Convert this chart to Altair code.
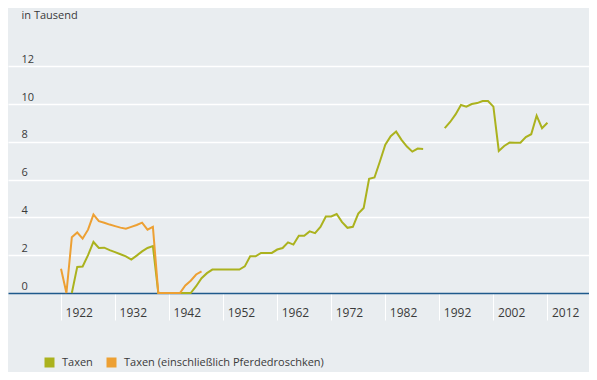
import altair as alt
import pandas as pd

# ---- data (in thousands) ----
series_names = ["Taxen", "Taxen (einschließlich Pferdedroschken)"]

years_taxen = list(range(1924, 2013))
values_taxen = [
    0, 1.38, 1.4, 2.0, 2.7, 2.38, 2.4, 2.27, 2.16, 2.05,          # 1924-1933
    1.94, 1.77, 1.98, 2.2, 2.38, 2.48, 0, 0, 0, 0,                # 1934-1943
    0, 0, 0, 0.36, 0.78, 1.05, 1.24, 1.24, 1.24, 1.24,            # 1944-1953
    1.24, 1.24, 1.41, 1.94, 1.94, 2.12, 2.12, 2.12, 2.3, 2.38,    # 1954-1963
    2.68, 2.56, 3.03, 3.03, 3.26, 3.17, 3.5, 4.05, 4.05, 4.18,    # 1964-1973
    3.75, 3.45, 3.5, 4.2, 4.5, 6.04, 6.11, 6.96, 7.85, 8.3,       # 1974-1983
    8.54, 8.1, 7.75, 7.48, 7.64, 7.62, None, None, None, 8.72,    # 1984-1993
    9.05, 9.45, 9.95, 9.86, 10.0, 10.05, 10.16, 10.16, 9.86, 7.52,  # 1994-2003
    7.78, 7.96, 7.95, 7.95, 8.25, 8.4, 9.38, 8.72, 9.01,          # 2004-2012
]

years_droschken = list(range(1922, 1949))
values_droschken = [
    1.28, 0, 2.95, 3.2, 2.88, 3.35, 4.15, 3.8, 3.72, 3.62,        # 1922-1931
    3.54, 3.46, 3.4, 3.5, 3.6, 3.72, 3.35, 3.5, 0, 0,             # 1932-1941
    0, 0, 0, 0.4, 0.65, 0.98, 1.15,                               # 1942-1948
]

x_tick_years = list(range(1922, 2013, 10))
y_tick_values = [0, 2, 4, 6, 8, 10, 12]

colors = ["#abb21e", "#eda033"]


def build(name, years, values):
    rows, seg = [], 0
    for yr, v in zip(years, values):
        if v is None:
            seg += 1
            continue
        rows.append({"year": yr, "value": v, "series": name, "seg": f"{name}-{seg}"})
    return pd.DataFrame(rows)


df_taxen = build(series_names[0], years_taxen, values_taxen)
df_drosch = build(series_names[1], years_droschken, values_droschken)

FONT = "Open Sans"
TEXT = "#3a3a3a"

x_enc = alt.X(
    "year:Q",
    scale=alt.Scale(domain=[1912.19, 2019.69], nice=False, zero=False),
    axis=alt.Axis(
        values=x_tick_years, format="d", grid=False, title=None,
        domainColor="#1f5a8c", domainWidth=1.5,
        tickColor="#ffffff", tickSize=27, tickWidth=1,
        labelAlign="left", labelBaseline="middle", labelPadding=-7.5,
        labelOffset=4, labelFlush=False, labelOverlap=False,
        labelFont=FONT, labelFontSize=12, labelColor=TEXT,
    ),
)

y_enc = alt.Y(
    "value:Q",
    scale=alt.Scale(domain=[0, 15.08], nice=False, zero=False),
    axis=alt.Axis(
        values=y_tick_values, grid=True,
        gridColor={"condition": {"test": "datum.value === 0", "value": "transparent"}, "value": "#ffffff"},
        gridWidth=1.5, domain=False, ticks=False, tickSize=0,
        labelAlign="left", labelBaseline="alphabetic", labelPadding=-13,
        labelOffset=-4, labelFont=FONT, labelFontSize=11, labelColor=TEXT,
        title="in Tausend", titleAngle=0, titleAlign="left", titleBaseline="alphabetic",
        titleX=13, titleY=10, titleFont=FONT, titleFontSize=11,
        titleFontWeight="normal", titleColor=TEXT,
    ),
)

color_enc = alt.Color(
    "series:N",
    scale=alt.Scale(domain=series_names, range=colors),
    legend=alt.Legend(
        orient="none", legendX=36, legendY=349, direction="horizontal", title=None,
        symbolType="square", symbolSize=25, symbolStrokeWidth=5,
        labelFont=FONT, labelFontSize=11, labelColor=TEXT, labelLimit=0,
        labelOffset=7, columnPadding=6,
    ),
)

line_taxen = alt.Chart(df_taxen).mark_line(strokeWidth=2).encode(
    x=x_enc, y=y_enc, color=color_enc, detail="seg:N"
)
line_drosch = alt.Chart(df_drosch).mark_line(strokeWidth=2).encode(
    x=x_enc, y=y_enc, color=color_enc, detail="seg:N"
)

chart = alt.layer(line_taxen, line_drosch).properties(
    width=581, height=285,
    autosize=alt.AutoSizeParams(type="none"),
    padding={"left": 0, "top": 0, "right": 0, "bottom": 79},
    background="#e9edf0",
).configure_view(stroke=None)

chart.save("out.html", embed_options={"renderer": "svg", "actions": False})
